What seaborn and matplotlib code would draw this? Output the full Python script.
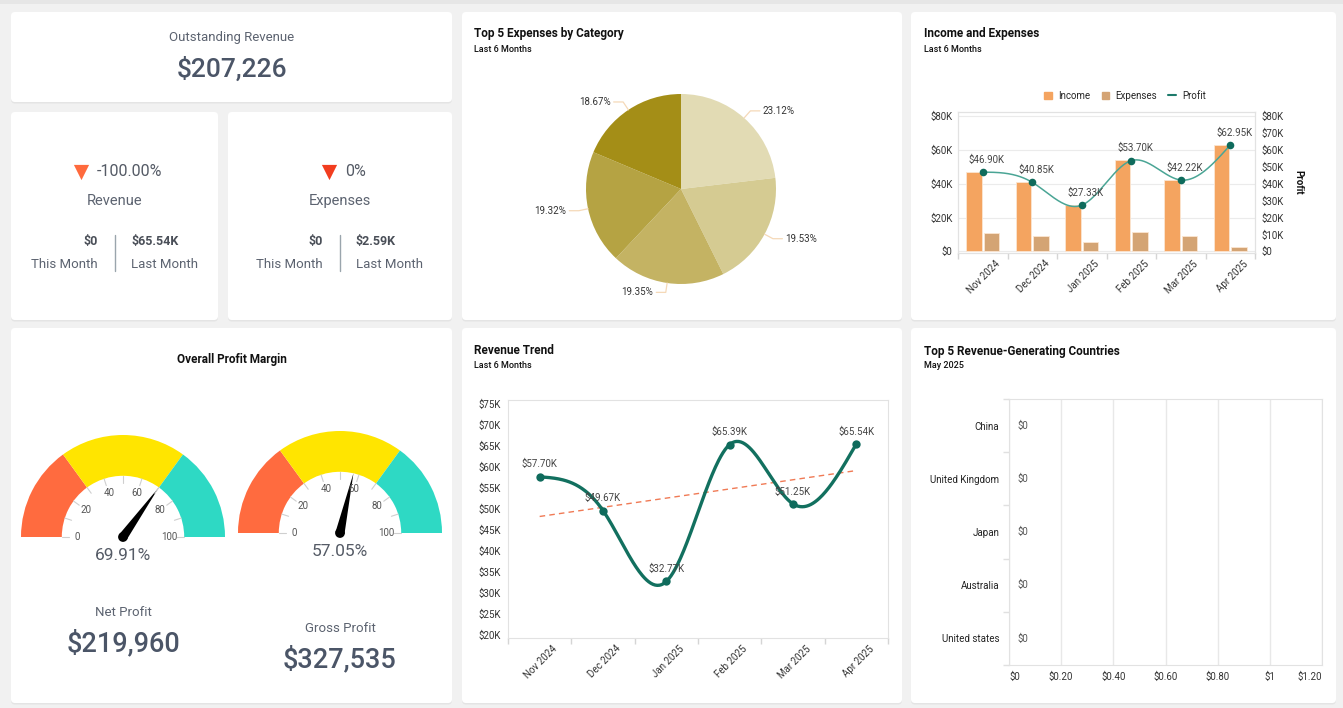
import numpy as np
import pandas as pd
import matplotlib
matplotlib.use("Agg")
import matplotlib.pyplot as plt
import seaborn as sns
from matplotlib.patches import FancyBboxPatch, Polygon, Circle, Patch
from matplotlib.lines import Line2D
from matplotlib.transforms import ScaledTranslation
from matplotlib.ticker import FuncFormatter

sns.set_theme(style="white")
plt.rcParams["font.family"] = ["Roboto", "DejaVu Sans"]

# ---- data (values in $K unless noted) ----
months = ["Nov 2024", "Dec 2024", "Jan 2025", "Feb 2025", "Mar 2025", "Apr 2025"]
income_k = [47.0, 41.0, 27.3, 53.8, 42.3, 63.0]
expenses_k = [10.80, 8.82, 5.44, 11.69, 9.03, 2.59]
profit_k = [46.90, 40.85, 27.33, 53.70, 42.22, 62.95]
revenue_k = [57.70, 49.67, 32.77, 65.39, 51.25, 65.54]

expense_share = [23.12, 19.53, 19.35, 19.32, 18.67]
pie_colors = ["#e2dbb4", "#d5cb92", "#c4b363", "#b5a343", "#a48e17"]

countries = ["China", "United Kingdom", "Japan", "Australia", "United states"]
country_revenue = [0, 0, 0, 0, 0]

gauge_values = [69.91, 57.05]
gauge_bands = [30, 40, 30]
gauge_colors = ["#ff6b3f", "#ffe500", "#2ed9c4"]

W, H = 1343, 708
BG = "#f1f1f1"
TXT = "#333333"
SLATE = "#4b5567"
GREY = "#5c6370"


def px_box(x0, y0, x1, y1):
    return [x0 / W, 1 - y1 / H, (x1 - x0) / W, (y1 - y0) / H]


def natural_spline(x, y, n=300):
    x = np.asarray(x, float)
    y = np.asarray(y, float)
    k = len(x)
    h = np.diff(x)
    A = np.zeros((k, k))
    b = np.zeros(k)
    A[0, 0] = A[-1, -1] = 1
    for i in range(1, k - 1):
        A[i, i - 1] = h[i - 1]
        A[i, i] = 2 * (h[i - 1] + h[i])
        A[i, i + 1] = h[i]
        b[i] = 6 * ((y[i + 1] - y[i]) / h[i] - (y[i] - y[i - 1]) / h[i - 1])
    M = np.linalg.solve(A, b)
    xs = np.linspace(x[0], x[-1], n)
    idx = np.clip(np.searchsorted(x, xs) - 1, 0, k - 2)
    x0, x1 = x[idx], x[idx + 1]
    hh = x1 - x0
    t0, t1 = xs - x0, x1 - xs
    ys = ((M[idx] * t1 ** 3 + M[idx + 1] * t0 ** 3) / (6 * hh)
          + (y[idx] / hh - M[idx] * hh / 6) * t1
          + (y[idx + 1] / hh - M[idx + 1] * hh / 6) * t0)
    return xs, ys


def style_axis(ax):
    for s in ax.spines.values():
        s.set_color("#e2e2e2")
        s.set_linewidth(0.8)
    ax.tick_params(labelsize=7, colors=TXT, length=0)


def month_ticks(ax):
    ax.set_xticks(range(len(months)))
    ax.set_xticklabels(months, rotation=45, ha="right", rotation_mode="anchor")
    ax.set_xticks(np.arange(-0.5, len(months)), minor=True)
    ax.tick_params(axis="x", which="minor", length=4, color="#d5d5d5", bottom=True)
    ax.tick_params(axis="x", which="major", pad=4)
    shift = ScaledTranslation(9 / 72, 0, ax.figure.dpi_scale_trans)
    for lab in ax.get_xticklabels():
        lab.set_transform(lab.get_transform() + shift)
    ax.set_xlim(-0.5, len(months) - 0.5)
    ax.set_xlabel("")


kfmt = FuncFormatter(lambda v, _: "$0" if v == 0 else f"${v:.0f}K")

fig = plt.figure(figsize=(W / 100, H / 100), dpi=100, facecolor=BG)

# background layer with cards and KPI text (pixel coordinates)
bg = fig.add_axes([0, 0, 1, 1])
bg.set_xlim(0, W)
bg.set_ylim(H, 0)
bg.axis("off")
bg.add_patch(plt.Rectangle((0, 0), W, 4, color="#e6e6e6", lw=0))
cards = [(11, 12, 452, 102), (11, 112, 218, 320), (228, 112, 452, 320),
         (462, 12, 902, 320), (911, 12, 1336, 320),
         (11, 328, 452, 703), (462, 328, 902, 703), (911, 328, 1336, 703)]
for x0, y0, x1, y1 in cards:
    bg.add_patch(FancyBboxPatch((x0, y0 + 1.5), x1 - x0, y1 - y0,
                                boxstyle="round,pad=0,rounding_size=4",
                                fc="#e4e4e4", ec="none"))
    bg.add_patch(FancyBboxPatch((x0, y0), x1 - x0, y1 - y0,
                                boxstyle="round,pad=0,rounding_size=4",
                                fc="white", ec="none"))

# outstanding revenue
bg.text(232, 38, "Outstanding Revenue", ha="center", va="center", fontsize=9.5, color=GREY)
bg.text(232, 69, "$207,226", ha="center", va="center", fontsize=19, color=SLATE, weight="medium")

# revenue / expenses KPI cards
kpis = [
    dict(cx=115, tri=81, tri_c="#ff6a3d", pct="-100.00%", pct_x=97, name="Revenue",
         this="$0", last="$65.54K"),
    dict(cx=340, tri=329, tri_c="#f23d1f", pct="0%", pct_x=345, name="Expenses",
         this="$0", last="$2.59K"),
]
for k in kpis:
    bg.scatter([k["tri"]], [172], marker="v", s=120, color=k["tri_c"], lw=0)
    bg.text(k["pct_x"], 172, k["pct"], ha="left", va="center", fontsize=11.5, color="#555b66")
    bg.text(k["cx"], 201, k["name"], ha="center", va="center", fontsize=10.5, color=GREY)
    bg.plot([k["cx"], k["cx"]], [235, 271], color="#9aa5ad", lw=1)
    bg.text(k["cx"] - 17, 242, k["this"], ha="right", va="center", fontsize=9, weight="bold", color="#4a4f58")
    bg.text(k["cx"] - 17, 265, "This Month", ha="right", va="center", fontsize=9.5, color=GREY)
    bg.text(k["cx"] + 16, 242, k["last"], ha="left", va="center", fontsize=9, weight="bold", color="#4a4f58")
    bg.text(k["cx"] + 16, 265, "Last Month", ha="left", va="center", fontsize=9.5, color=GREY)

# card titles
for x, y, t in [(474, 34, "Top 5 Expenses by Category"), (924, 34, "Income and Expenses"),
                (474, 351, "Revenue Trend"), (924, 351, "Top 5 Revenue-Generating Countries")]:
    bg.text(x, y, t, ha="left", va="center", fontsize=8.5, weight="bold", color="#111111")
for x, y, t in [(474, 50, "Last 6 Months"), (924, 50, "Last 6 Months"),
                (474, 366, "Last 6 Months"), (924, 366, "May 2025")]:
    bg.text(x, y, t, ha="left", va="center", fontsize=6.5, weight="medium", color="#111111")
bg.text(232, 359, "Overall Profit Margin", ha="center", va="center", fontsize=8.5, weight="bold", color="#111111")

# ---- pie: top 5 expenses ----
r_pie = 95
axp = fig.add_axes(px_box(681 - 130, 189 - 130, 681 + 130, 189 + 130))
wedges, _ = axp.pie(expense_share, colors=pie_colors, startangle=90, counterclock=False,
                    radius=1, wedgeprops=dict(linewidth=0))
for w, v in zip(wedges, expense_share):
    ang = np.deg2rad((w.theta1 + w.theta2) / 2)
    p = np.array([np.cos(ang), np.sin(ang)])
    e = 1.1 * p
    sgn = 1 if p[0] >= 0 else -1
    hpt = e + np.array([0.1 * sgn, 0])
    axp.plot([p[0], e[0], hpt[0]], [p[1], e[1], hpt[1]], color="#f5d9b8", lw=0.9)
    axp.text(hpt[0] + 0.03 * sgn, hpt[1], f"{v:.2f}%", ha="left" if sgn > 0 else "right",
             va="center", fontsize=7, color=TXT)
lim = 130 / r_pie
axp.set_xlim(-lim, lim)
axp.set_ylim(-lim, lim)
axp.set_aspect("equal")
axp.axis("off")

# ---- income and expenses ----
axi = fig.add_axes(px_box(958, 112, 1255, 253))
df_ie = pd.DataFrame({"month": months * 2,
                      "value": income_k + expenses_k,
                      "series": ["Income"] * len(months) + ["Expenses"] * len(months)})
sns.barplot(data=df_ie, x="month", y="value", hue="series", palette=["#f4a460", "#d4a474"],
            saturation=1, width=0.7, gap=0.1, ax=axi, legend=False,
            edgecolor="#fbe6d2", linewidth=0.6)
axi.set_ylim(-1, 82.5)
axi.set_yticks(range(0, 81, 20))
axi.yaxis.set_major_formatter(kfmt)
axi.grid(axis="y", color="#ebebeb", lw=0.8)
axi.set_axisbelow(True)
axi.set_ylabel("")
style_axis(axi)
month_ticks(axi)

axr = axi.twinx()
xs, ys = natural_spline(range(len(months)), profit_k)
axr.plot(xs, ys, color="#4aa595", lw=1.1)
sns.scatterplot(x=range(len(months)), y=profit_k, color="#0f6b5c", s=30, ax=axr, zorder=5, lw=0)
for i, v in enumerate(profit_k):
    axr.annotate(f"${v:.2f}K", (i, v), xytext=(3, 9), textcoords="offset points",
                 ha="center", va="center", fontsize=7, color="#444444")
axr.set_ylim(-1, 82.5)
axr.set_yticks(range(0, 81, 10))
axr.yaxis.set_major_formatter(kfmt)
axr.set_ylabel("Profit", rotation=270, fontsize=7, weight="bold", color="#111111", labelpad=14)
style_axis(axr)
axr.tick_params(axis="y", pad=5)
axi.tick_params(axis="y", pad=4)

handles = [Patch(color="#f4a460", label="Income"), Patch(color="#d4a474", label="Expenses"),
           Line2D([0], [0], color="#1d7a6b", lw=1.5, label="Profit")]
axi.legend(handles=handles, loc="center", bbox_to_anchor=(1125 / W, 1 - 96 / H),
           bbox_transform=fig.transFigure, ncol=3, frameon=False, fontsize=7,
           handlelength=0.8, handleheight=0.8, columnspacing=1.2, handletextpad=0.6)

# ---- revenue trend ----
axt = fig.add_axes(px_box(508, 400, 888, 638))
sns.regplot(x=np.arange(len(months)), y=revenue_k, scatter=False, ci=None, ax=axt,
            line_kws=dict(color="#f07a55", lw=1, ls=(0, (4, 3))))
xs, ys = natural_spline(range(len(months)), revenue_k)
axt.plot(xs, ys, color="#12705f", lw=2.4)
sns.scatterplot(x=range(len(months)), y=revenue_k, color="#0f6b5c", s=36, ax=axt, zorder=5, lw=0)
for i, v in enumerate(revenue_k):
    axt.annotate(f"${v:.2f}K", (i, v), xytext=(0, 9), textcoords="offset points",
                 ha="center", va="center", fontsize=7, color="#444444")
axt.set_ylim(19.3, 76)
axt.set_yticks(range(20, 76, 5))
axt.yaxis.set_major_formatter(kfmt)
style_axis(axt)
axt.tick_params(axis="y", pad=5)
month_ticks(axt)

# ---- top 5 countries ----
axc = fig.add_axes(px_box(1009, 399, 1322, 665))
sns.barplot(x=country_revenue, y=countries, orient="h", color="#f4a460", saturation=1, ax=axc)
axc.bar_label(axc.containers[0], labels=[f"${v:g}" for v in country_revenue],
              padding=6, fontsize=7, color="#555555")
axc.set_xlim(0, 1.2)
axc.set_xticks(np.arange(0, 1.21, 0.2))
axc.xaxis.set_major_formatter(FuncFormatter(
    lambda v, _: "$0" if abs(v) < 1e-9 else (f"${v:.0f}" if abs(v - round(v)) < 1e-9 else f"${v:.2f}")))
axc.grid(axis="x", color="#e8e8e8", lw=1)
axc.set_axisbelow(True)
style_axis(axc)
axc.set_yticks(np.arange(-0.5, len(countries)), minor=True)
axc.tick_params(axis="y", which="minor", length=4, color="#e0e0e0", left=True)
axc.tick_params(axis="y", which="major", pad=7, colors="#222222")
axc.tick_params(axis="x", pad=5)
axc.set_ylim(len(countries) - 0.5, -0.5)
xlabs = axc.get_xticklabels()
xlabs[0].set_horizontalalignment("left")
xlabs[-1].set_horizontalalignment("right")

# ---- gauges ----
gauge_spec = [(123, 537, "69.91%", "Net Profit", "$219,960", 612, 643),
              (340, 533, "57.05%", "Gross Profit", "$327,535", 629, 659)]
r_g = 102
for (cx, cy, pct, lab, amt, ly, ay), val in zip(gauge_spec, gauge_values):
    axg = fig.add_axes(px_box(cx - 110, cy - 110, cx + 110, cy + 110))
    axg.pie(gauge_bands + [sum(gauge_bands)], colors=gauge_colors + ["none"], startangle=180,
            counterclock=False, radius=1, wedgeprops=dict(width=0.4, linewidth=0))
    for t in range(0, 101, 10):
        a = np.pi * (1 - t / 100)
        axg.plot([0.53 * np.cos(a), 0.6 * np.cos(a)], [0.53 * np.sin(a), 0.6 * np.sin(a)],
                 color="#cfcfcf", lw=0.8)
    for t in range(0, 101, 20):
        a = np.pi * (1 - t / 100)
        axg.text(0.45 * np.cos(a), 0.45 * np.sin(a), str(t), ha="center", va="center",
                 fontsize=7, color="#555555")
    a = np.pi * (1 - val / 100)
    tip = 0.6 * np.array([np.cos(a), np.sin(a)])
    perp = 0.045 * np.array([-np.sin(a), np.cos(a)])
    axg.add_patch(Polygon([perp, tip, -perp], closed=True, color="black", lw=0))
    axg.add_patch(Circle((0, 0), 0.048, color="black", lw=0))
    lim = 110 / r_g
    axg.set_xlim(-lim, lim)
    axg.set_ylim(-lim, lim)
    axg.set_aspect("equal")
    axg.axis("off")
    bg.text(cx, cy + 18, pct, ha="center", va="center", fontsize=12.5, color="#555b66")
    bg.text(cx, ly, lab, ha="center", va="center", fontsize=9.5, color=GREY)
    bg.text(cx, ay, amt, ha="center", va="center", fontsize=19.5, color=SLATE, weight="medium")

fig.savefig("out.png", dpi=100, facecolor=BG)
